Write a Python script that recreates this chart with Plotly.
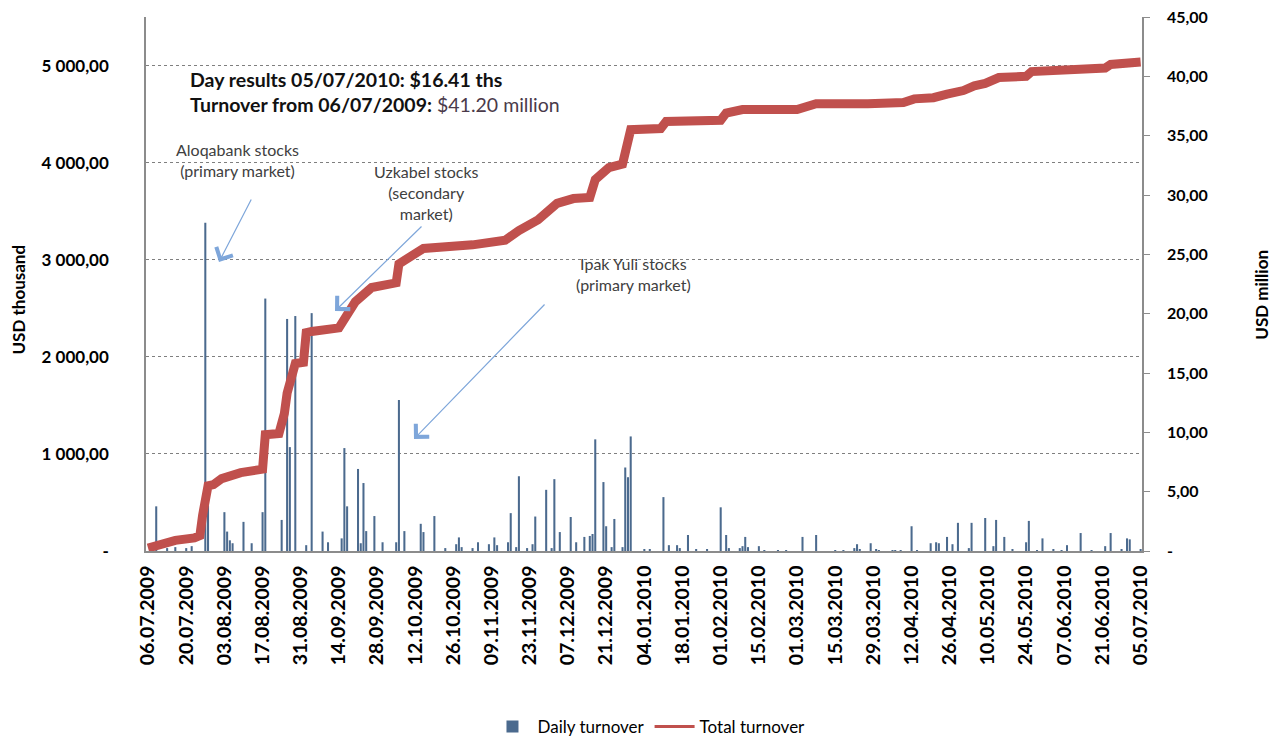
import plotly.graph_objects as go
import pandas as pd

# ---------------- data ----------------
daily_dates = [
    "2009-07-09", "2009-07-13", "2009-07-16", "2009-07-20", "2009-07-22", "2009-07-27", "2009-07-28",
    "2009-08-03", "2009-08-04", "2009-08-05", "2009-08-06", "2009-08-10", "2009-08-13", "2009-08-17",
    "2009-08-18", "2009-08-24", "2009-08-26", "2009-08-27", "2009-08-29", "2009-09-02", "2009-09-04",
    "2009-09-08", "2009-09-10", "2009-09-15", "2009-09-16", "2009-09-17", "2009-09-21", "2009-09-22",
    "2009-09-23", "2009-09-24", "2009-09-27", "2009-09-30", "2009-10-05", "2009-10-06", "2009-10-08",
    "2009-10-14", "2009-10-15", "2009-10-19", "2009-10-23", "2009-10-27", "2009-10-28", "2009-10-29",
    "2009-11-02", "2009-11-04", "2009-11-08", "2009-11-10", "2009-11-11", "2009-11-15", "2009-11-16",
    "2009-11-18", "2009-11-19", "2009-11-22", "2009-11-24", "2009-11-25", "2009-11-29", "2009-12-01",
    "2009-12-02", "2009-12-04", "2009-12-08", "2009-12-10", "2009-12-13", "2009-12-15", "2009-12-16",
    "2009-12-17", "2009-12-20", "2009-12-21", "2009-12-23", "2009-12-24", "2009-12-27", "2009-12-28",
    "2009-12-29", "2009-12-30", "2010-01-04", "2010-01-06", "2010-01-11", "2010-01-13", "2010-01-16",
    "2010-01-17", "2010-01-20", "2010-01-23", "2010-01-27", "2010-02-01", "2010-02-03", "2010-02-04",
    "2010-02-08", "2010-02-09", "2010-02-10", "2010-02-11", "2010-02-15", "2010-02-17", "2010-02-22",
    "2010-02-25", "2010-03-03", "2010-03-08", "2010-03-15", "2010-03-18", "2010-03-22", "2010-03-23",
    "2010-03-24", "2010-03-28", "2010-03-30", "2010-03-31", "2010-04-05", "2010-04-06", "2010-04-08",
    "2010-04-12", "2010-04-14", "2010-04-19", "2010-04-21", "2010-04-22", "2010-04-25", "2010-04-27",
    "2010-04-29", "2010-05-03", "2010-05-04", "2010-05-09", "2010-05-12", "2010-05-13", "2010-05-16",
    "2010-05-19", "2010-05-24", "2010-05-25", "2010-05-28", "2010-05-30", "2010-06-03", "2010-06-06",
    "2010-06-08", "2010-06-13", "2010-06-17", "2010-06-22", "2010-06-24", "2010-06-28", "2010-06-30",
    "2010-07-01", "2010-07-05",
]
daily_values = [
    460, 30, 40, 30, 50, 3380, 470,
    400, 200, 110, 80, 300, 80, 400,
    2600, 320, 2390, 1070, 2420, 60, 2450,
    200, 90, 130, 1060, 460, 845, 80,
    700, 205, 360, 90, 90, 1555, 205,
    280, 195, 360, 30, 70, 140, 40,
    30, 90, 70, 140, 60, 90, 390,
    40, 770, 30, 70, 355, 630, 30,
    740, 195, 350, 90, 145, 155, 175,
    1150, 710, 255, 40, 330, 40, 860,
    760, 1180, 20, 20, 555, 60, 60,
    30, 165, 20, 20, 450, 165, 30,
    30, 50, 145, 40, 50, 10, 10,
    10, 145, 165, 10, 10, 30, 70,
    20, 80, 20, 10, 10, 10, 10,
    255, 10, 80, 90, 80, 145, 70,
    290, 30, 290, 340, 50, 320, 145,
    20, 90, 310, 10, 130, 20, 10,
    60, 185, 10, 50, 185, 20, 130,
    120, 16.41,
]

total_dates = [
    "2009-07-06", "2009-07-12", "2009-07-16", "2009-07-23", "2009-07-25", "2009-07-26", "2009-07-27",
    "2009-07-28", "2009-07-30", "2009-08-02", "2009-08-09", "2009-08-15", "2009-08-17", "2009-08-18",
    "2009-08-23", "2009-08-25", "2009-08-26", "2009-08-29", "2009-09-01", "2009-09-02", "2009-09-04",
    "2009-09-14", "2009-09-17", "2009-09-20", "2009-09-26", "2009-10-05", "2009-10-06", "2009-10-10",
    "2009-10-15", "2009-11-02", "2009-11-14", "2009-11-19", "2009-11-26", "2009-12-03", "2009-12-09",
    "2009-12-15", "2009-12-17", "2009-12-22", "2009-12-27", "2009-12-30", "2010-01-10", "2010-01-12",
    "2010-02-01", "2010-02-03", "2010-02-09", "2010-03-01", "2010-03-08", "2010-03-27", "2010-04-09",
    "2010-04-13", "2010-04-20", "2010-04-25", "2010-05-01", "2010-05-05", "2010-05-09", "2010-05-14",
    "2010-05-24", "2010-05-26", "2010-06-12", "2010-06-22", "2010-06-24", "2010-07-01", "2010-07-05",
]
total_values = [
    0.25, 0.7, 0.9, 1.1, 1.3, 3.0, 4.8,
    5.5, 5.6, 6.1, 6.6, 6.8, 6.9, 9.8,
    9.9, 11.6, 13.3, 15.8, 15.9, 18.4, 18.5,
    18.8, 20.0, 21.0, 22.2, 22.6, 24.2, 24.8,
    25.5, 25.8, 26.2, 27.0, 27.9, 29.3, 29.7,
    29.8, 31.3, 32.3, 32.6, 35.5, 35.6, 36.2,
    36.3, 36.9, 37.2, 37.2, 37.7, 37.7, 37.8,
    38.1, 38.2, 38.5, 38.8, 39.2, 39.4, 39.9,
    40.0, 40.4, 40.5, 40.7, 41.0, 41.1, 41.2,
]

x_tick_labels = [
    "06.07.2009", "20.07.2009", "03.08.2009", "17.08.2009", "31.08.2009", "14.09.2009",
    "28.09.2009", "12.10.2009", "26.10.2009", "09.11.2009", "23.11.2009", "07.12.2009",
    "21.12.2009", "04.01.2010", "18.01.2010", "01.02.2010", "15.02.2010", "01.03.2010",
    "15.03.2010", "29.03.2010", "12.04.2010", "26.04.2010", "10.05.2010", "24.05.2010",
    "07.06.2010", "21.06.2010", "05.07.2010",
]
left_tick_values = [0, 1000, 2000, 3000, 4000, 5000]
left_tick_labels = ["-", "1 000,00", "2 000,00", "3 000,00", "4 000,00", "5 000,00"]
right_tick_values = [0, 5, 10, 15, 20, 25, 30, 35, 40, 45]
right_tick_labels = ["-", "5,00", "10,00", "15,00", "20,00", "25,00", "30,00", "35,00", "40,00", "45,00"]

# ---------------- figure ----------------
FONT = "Lato"
BAR_COLOR = "#4B6A8E"
LINE_COLOR = "#C0504D"
x_tick_vals = pd.to_datetime(x_tick_labels, format="%d.%m.%Y")

fig = go.Figure()
fig.add_trace(go.Bar(
    x=pd.to_datetime(daily_dates), y=daily_values, name="Daily turnover",
    marker=dict(color=BAR_COLOR, line=dict(width=0)),
    width=0.75 * 86400000,
))
fig.add_trace(go.Scatter(
    x=pd.to_datetime(total_dates), y=total_values, name="Total turnover",
    mode="lines", yaxis="y2", showlegend=False,
    line=dict(color=LINE_COLOR, width=9),
))
# legend-only entry with a thinner line sample, as in the original legend
fig.add_trace(go.Scatter(
    x=[None], y=[None], name="Total turnover", mode="lines", yaxis="y2",
    line=dict(color=LINE_COLOR, width=3),
))

# page body has an 8px margin: size and margins compensate so the plot area
# lands at x 146..1142, y 17..551 of the window
axis_line = "#8C8C8C"
fig.update_layout(
    width=1271, height=732,
    margin=dict(l=138, r=137, t=9, b=189),
    paper_bgcolor="white", plot_bgcolor="white",
    font=dict(family=FONT, color="#000000"),
    showlegend=True,
    legend=dict(orientation="h", x=0.505, xanchor="center",
                yref="container", y=13 / 732, yanchor="middle",
                font=dict(family=FONT, size=17, color="#000000"), itemwidth=40),
    xaxis=dict(
        type="date", range=["2009-07-05 06:00", "2010-07-05 12:00"],
        tickmode="array", tickvals=x_tick_vals, ticktext=x_tick_labels,
        tickangle=-90, tickfont=dict(family=FONT, size=19.5, color="#000000", weight="bold"),
        showline=True, linecolor=axis_line, linewidth=1.5, showgrid=False,
        ticks="", ticklabelstandoff=5, automargin=False, ticklabeloverflow="allow",
    ),
    yaxis=dict(
        range=[0, 5500], tickmode="array", tickvals=left_tick_values, ticktext=left_tick_labels,
        tickfont=dict(family=FONT, size=17, color="#000000", weight="bold"),
        showline=True, linecolor=axis_line, linewidth=1.5,
        showgrid=True, gridcolor="#7F7F7F", griddash="dot", gridwidth=1,
        zeroline=False, ticks="", ticklabelstandoff=32, automargin=False,
        ticklabeloverflow="allow",
    ),
    yaxis2=dict(
        range=[0, 45], overlaying="y", side="right",
        tickmode="array", tickvals=right_tick_values, ticktext=right_tick_labels,
        tickfont=dict(family=FONT, size=16, color="#000000", weight="bold"),
        showline=True, linecolor=axis_line, linewidth=1.5, showgrid=False, zeroline=False,
        ticks="outside", ticklen=6, tickcolor=axis_line, ticklabelstandoff=14, automargin=False,
        ticklabeloverflow="allow",
    ),
)

ann = []
# axis titles
ann.append(dict(text="<b>USD thousand</b>", xref="paper", yref="paper", x=-0.128, y=0.47,
                xanchor="center", yanchor="middle",
                textangle=-90, showarrow=False, font=dict(family=FONT, size=17, color="#000000")))
ann.append(dict(text="<b>USD million</b>", xref="paper", yref="paper", x=1.1205, y=0.48,
                xanchor="center", yanchor="middle",
                textangle=-90, showarrow=False, font=dict(family=FONT, size=17, color="#000000")))
# headline
ann.append(dict(text="<b>Day results 05/07/2010: $16.41 ths</b>", xref="paper", yref="paper",
                x=(188 - 146) / 996, y=(551 - 80) / 534, xanchor="left", yanchor="middle",
                showarrow=False, font=dict(family=FONT, size=19.5, color="#111111")))
ann.append(dict(text="<b>Turnover from 06/07/2009:</b> <span style='color:#4a3a4a'>$41.20 million</span>",
                xref="paper", yref="paper",
                x=(188 - 146) / 996, y=(551 - 105) / 534, xanchor="left", yanchor="middle",
                showarrow=False, font=dict(family=FONT, size=19.5, color="#111111")))

label_font = dict(family=FONT, size=16, color="#404040")
def px(x, y):
    return (x - 146) / 996, (551 - y) / 534

for text, cx, cy in [
    ("Aloqabank stocks<br>(primary market)", 237, 160),
    ("Uzkabel stocks<br>(secondary<br>market)", 426, 192),
    ("Ipak Yuli stocks<br>(primary market)", 633, 274),
]:
    X, Y = px(cx, cy)
    ann.append(dict(text=text, xref="paper", yref="paper", x=X, y=Y, showarrow=False,
                    font=label_font, align="center", xanchor="center", yanchor="middle"))

arrow_color = "#7EA6DA"
for (tx, ty), (hx, hy) in [
    ((252, 198), (219, 262)),
    ((423, 225), (335, 311)),
    ((546, 303), (414, 439)),
]:
    X, Y = px(hx, hy)
    ann.append(dict(text="", xref="paper", yref="paper", x=X, y=Y, ax=tx - hx, ay=ty - hy,
                    showarrow=True, arrowhead=4, arrowsize=3, arrowwidth=1.2,
                    arrowcolor=arrow_color))

fig.update_layout(annotations=ann)
fig.write_html("out.html")
